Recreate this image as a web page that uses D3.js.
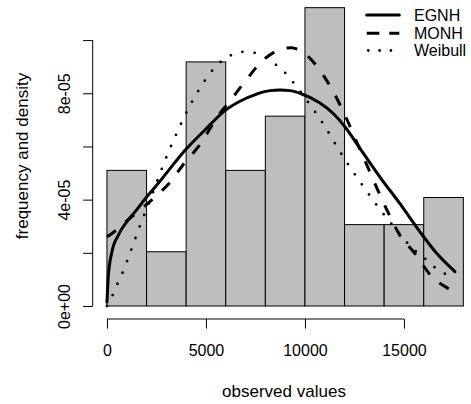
<!DOCTYPE html>
<html>
<head>
<meta charset="utf-8">
<script src="https://cdn.jsdelivr.net/npm/d3@7"></script>
<style>
  html, body { margin: 0; padding: 0; background: #fff; }
  svg text { font-family: "Liberation Sans", Arial, Helvetica, sans-serif; fill: #000; }
</style>
</head>
<body>
<svg id="chart" width="471" height="404"></svg>
<script>
// ---- data ----
const binStarts = [0, 2000, 4000, 6000, 8000, 10000, 12000, 14000, 16000];
const binWidth = 2000;
const binDensity = [5.10e-5, 2.04e-5, 9.18e-5, 5.10e-5, 7.14e-5, 11.22e-5, 3.06e-5, 3.06e-5, 4.08e-5];

const egnhX = [0, 30, 66, 237, 571, 995, 1414, 2005, 2510, 4025, 4949, 5960, 6717, 7561, 8232, 8737, 9242, 9747, 10758, 11429, 11970, 12778, 13788, 14798, 15808, 16652, 17576];
const egnhY = [0.15, 0.6, 1.10, 1.99, 2.66, 3.16, 3.54, 4.10, 4.54, 5.92, 6.62, 7.35, 7.70, 7.97, 8.10, 8.12, 8.10, 8.00, 7.63, 7.24, 6.79, 5.93, 4.85, 3.85, 2.79, 1.98, 1.29];

const monhX = [0, 202, 1061, 2222, 3106, 3889, 4697, 5657, 6162, 6970, 7828, 8864, 9293, 10051, 10909, 11566, 12121, 12652, 13157, 13662, 14217, 14747, 15556, 16389, 17374, 17626];
const monhY = [2.60, 2.70, 3.24, 3.96, 4.59, 5.35, 6.07, 7.20, 7.66, 8.44, 9.20, 9.67, 9.71, 9.45, 8.70, 7.87, 7.01, 6.11, 5.25, 4.39, 3.49, 2.72, 1.97, 1.12, 0.60, 0.49];

const weibX = [0, 288, 540, 808, 1263, 1702, 2172, 2626, 3096, 3621, 4177, 4833, 5202, 5621, 6146, 6717, 7389, 7980, 8485, 8990, 9409, 10167, 10924, 11601, 12273, 13030, 13788, 14631, 15051, 15439, 15975, 16399, 16904, 17460, 17576];
const weibY = [0, 0.412, 0.851, 1.29, 2.19, 3.09, 3.97, 4.88, 5.77, 6.66, 7.52, 8.35, 8.75, 9.10, 9.38, 9.56, 9.53, 9.35, 9.10, 8.78, 8.41, 7.66, 6.85, 6.01, 5.22, 4.41, 3.63, 2.85, 2.47, 2.16, 1.85, 1.54, 1.29, 1.04, 0.98];
const densityUnit = 1e-5;

const xTicks = [0, 5000, 10000, 15000];
const xTickLabels = ["0", "5000", "10000", "15000"];
const yTicks = [0, 2e-5, 4e-5, 6e-5, 8e-5, 1e-4];
const yTickLabels = ["0e+00", "", "4e-05", "", "8e-05", ""];

const seriesNames = ["EGNH", "MONH", "Weibull"];
const xTitle = "observed values";
const yTitle = "frequency and density";

// ---- layout ----
const svg = d3.select("#chart");
const x = d3.scaleLinear().domain([-720, 18720]).range([92.7, 477.6]);
const y = d3.scaleLinear().domain([0, 1e-4]).range([306, 40.1]);
const axisY = 319;     // x-axis line position
const axisX = 92.7;    // y-axis line position
const tickLen = 9.6;

// bars
svg.append("g").selectAll("rect")
  .data(binStarts.map((s, i) => ({ s, d: binDensity[i] })))
  .join("rect")
  .attr("x", d => x(d.s))
  .attr("width", d => x(d.s + binWidth) - x(d.s))
  .attr("y", d => y(d.d))
  .attr("height", d => y(0) - y(d.d))
  .attr("fill", "#BEBEBE")
  .attr("stroke", "#000")
  .attr("stroke-width", 1);

// curves
const line = d3.line().x(d => x(d[0])).y(d => y(d[1] * densityUnit)).curve(d3.curveMonotoneX);
const styles = [
  { xs: egnhX, ys: egnhY, dash: null, w: 3, cap: "round" },
  { xs: monhX, ys: monhY, dash: "11 13", w: 3, cap: "butt" },
  { xs: weibX, ys: weibY, dash: "0 12.3", w: 2.8, cap: "round" }
];
styles.forEach(s => {
  svg.append("path")
    .attr("d", line(s.xs.map((v, i) => [v, s.ys[i]])))
    .attr("fill", "none")
    .attr("stroke", "#000")
    .attr("stroke-width", s.w)
    .attr("stroke-linecap", s.cap)
    .attr("stroke-linejoin", "round")
    .attr("stroke-dasharray", s.dash);
});

// x axis
const gx = svg.append("g").attr("transform", `translate(0,${axisY})`)
  .call(d3.axisBottom(x).tickValues(xTicks).tickSize(tickLen).tickSizeOuter(0).tickFormat((d, i) => xTickLabels[i]));
gx.select(".domain").remove();
gx.append("line").attr("x1", x(xTicks[0])).attr("x2", x(xTicks[xTicks.length - 1])).attr("stroke", "#000");
gx.selectAll(".tick line").attr("stroke", "#000");
gx.selectAll(".tick text").attr("font-size", 16).attr("font-family", null).attr("fill", "#000")
  .attr("dy", null).attr("y", 37);

// y axis
const gy = svg.append("g").attr("transform", `translate(${axisX},0)`)
  .call(d3.axisLeft(y).tickValues(yTicks).tickSize(tickLen).tickSizeOuter(0).tickFormat((d, i) => yTickLabels[i]));
gy.select(".domain").remove();
gy.append("line").attr("y1", y(yTicks[0])).attr("y2", y(yTicks[yTicks.length - 1])).attr("stroke", "#000");
gy.selectAll(".tick line").attr("stroke", "#000");
gy.selectAll(".tick text").attr("font-size", 16).attr("font-family", null).attr("fill", "#000")
  .attr("dy", null).attr("x", null).attr("text-anchor", "middle")
  .attr("transform", "translate(-22.5,0) rotate(-90)");

// titles
svg.append("text").attr("x", 284).attr("y", 396.5).attr("text-anchor", "middle")
  .attr("font-size", 17).text(xTitle);
svg.append("text").attr("transform", "translate(28.4,156) rotate(-90)").attr("text-anchor", "middle")
  .attr("font-size", 17).text(yTitle);

// legend
const legY = [15, 33.3, 50.5];
const leg = svg.append("g");
seriesNames.forEach((n, i) => {
  leg.append("line").attr("x1", 366.7).attr("x2", 399.3).attr("y1", legY[i]).attr("y2", legY[i])
    .attr("stroke", "#000").attr("stroke-width", styles[i].w)
    .attr("stroke-linecap", styles[i].cap)
    .attr("stroke-dasharray", i === 1 ? "12.6 10" : (i === 2 ? "0 11.3" : null))
    .attr("transform", i === 2 ? "translate(1.6,0)" : null);
  leg.append("text").attr("x", 414).attr("y", legY[i] + 5.6).attr("font-size", 16).text(n);
});
</script>
</body>
</html>
